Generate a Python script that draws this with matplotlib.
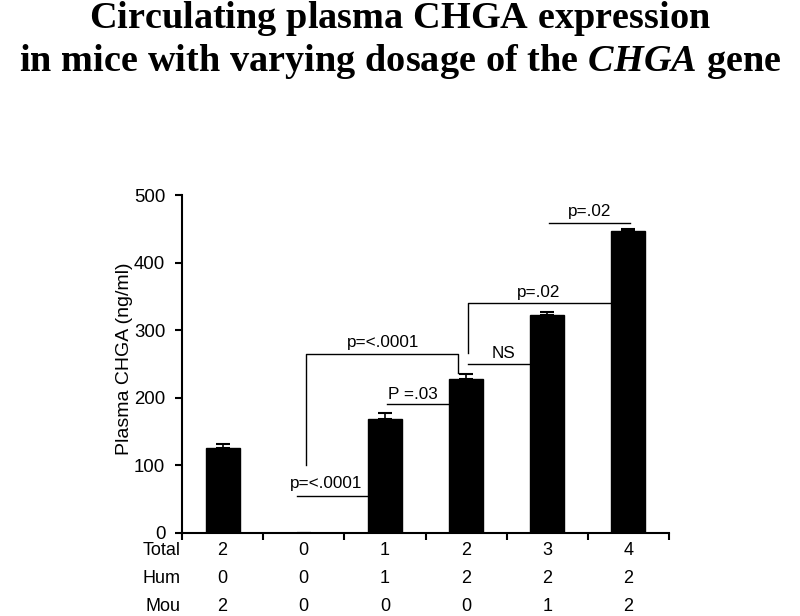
import matplotlib.pyplot as plt
import numpy as np

# bar heights (ng/ml) and upper error
means = [125, 0, 169, 228, 323, 446]
errs = [6, 0, 8, 7, 4, 3]

total = ['2', '0', '1', '2', '3', '4']
hum = ['0', '0', '1', '2', '2', '2']
mou = ['2', '0', '0', '0', '1', '2']

plt.rcParams['font.family'] = ['Liberation Sans', 'DejaVu Sans']
plt.rcParams['mathtext.fontset'] = 'custom'
plt.rcParams['mathtext.rm'] = 'Liberation Serif:bold'
plt.rcParams['mathtext.it'] = 'Liberation Serif:italic:bold'

fig = plt.figure(figsize=(8, 6.16), dpi=100)
ax = fig.add_axes([0.2275, 0.1352, 0.6088, 0.5482])

x = np.arange(len(means))
ax.bar(x, means, width=0.42, color='black', edgecolor='black')
ax.errorbar(x, means, yerr=[np.zeros(len(errs)), errs], fmt='none',
            ecolor='black', elinewidth=1.2, capsize=5, capthick=1.5)

ax.set_xlim(-0.5, 5.5)
ax.set_ylim(0, 500)
ax.set_yticks([0, 100, 200, 300, 400, 500])
ax.set_xticks(np.arange(-0.5, 6, 1))
ax.set_xticklabels([])
ax.tick_params(axis='both', direction='out', length=5, width=1.5, labelsize=13.4)
ax.tick_params(axis='y', pad=7)
for s in ['top', 'right']:
    ax.spines[s].set_visible(False)
for s in ['left', 'bottom']:
    ax.spines[s].set_linewidth(1.5)
ax.set_ylabel('Plasma CHGA (ng/ml)', fontsize=14)
ax.yaxis.set_label_coords(-0.101, 0.514)

# table under the axis
rows = [('Total', total), ('Hum', hum), ('Mou', mou)]
for i, (name, vals) in enumerate(rows):
    yy = -0.0535 - i * 0.0825
    ax.text(-0.003, yy, name, transform=ax.transAxes, ha='right', va='center', fontsize=13)
    for xi, v in zip(x, vals):
        ax.text(xi, yy, v, transform=ax.get_xaxis_transform(), ha='center', va='center', fontsize=13)

lw = 1
fs = 12.3
# significance annotations
ax.plot([1.03, 1.03, 2.9, 2.9], [100, 265, 265, 237], color='black', lw=lw)
ax.text(1.976, 271, 'p=<.0001', ha='center', va='bottom', fontsize=fs)

ax.plot([0.913, 1.788], [55, 55], color='black', lw=lw)
ax.text(1.27, 62, 'p=<.0001', ha='center', va='bottom', fontsize=fs)

ax.plot([2.026, 2.777], [190.6, 190.6], color='black', lw=lw)
ax.text(2.346, 193, 'P =.03', ha='center', va='bottom', fontsize=fs)

ax.plot([3.023, 3.775], [250, 250], color='black', lw=lw)
ax.text(3.455, 254, 'NS', ha='center', va='bottom', fontsize=fs)

ax.plot([3.023, 3.023, 4.773], [266, 340, 340], color='black', lw=lw)
ax.text(3.898, 345, 'p=.02', ha='center', va='bottom', fontsize=fs)

ax.plot([4.021, 5.019], [459, 459], color='black', lw=lw)
ax.text(4.527, 464, 'p=.02', ha='center', va='bottom', fontsize=fs)

fig.text(0.5, 1 - 28 / 616, r'$\mathrm{Circulating\ plasma\ CHGA\ expression}$',
         ha='center', va='baseline', fontsize=27.5)
fig.text(0.5, 1 - 71 / 616, r'$\mathrm{in\ mice\ with\ varying\ dosage\ of\ the\ }\mathit{CHGA}\mathrm{\ gene}$',
         ha='center', va='baseline', fontsize=27.5)

fig.savefig('out.png', dpi=100)
